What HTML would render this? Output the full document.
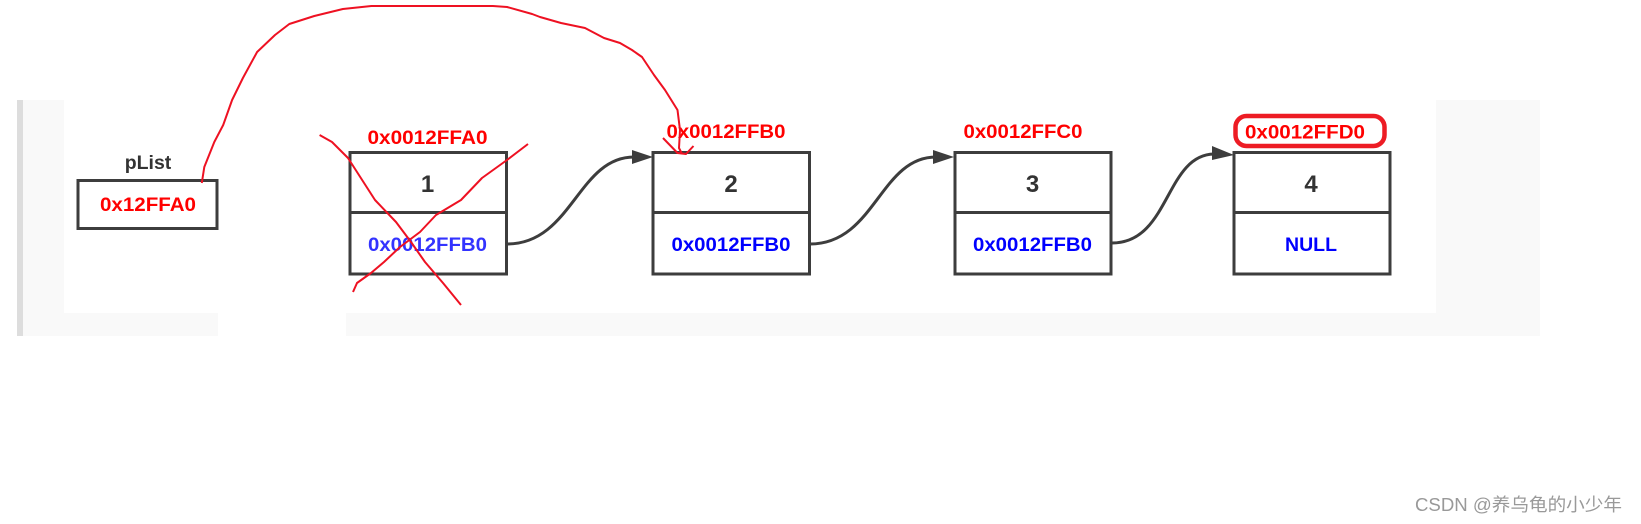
<!DOCTYPE html>
<html><head><meta charset="utf-8">
<style>html,body{margin:0;padding:0;background:#fff}svg{display:block}
text{font-family:"Liberation Sans","Noto Sans CJK SC",sans-serif;text-anchor:middle;font-weight:bold;font-size:19.5px}</style></head>
<body>
<svg width="1641" height="524" viewBox="0 0 1641 524" xmlns="http://www.w3.org/2000/svg">
<rect x="17" y="100" width="1523" height="236" fill="#f9f9f9"/>
<rect x="17" y="100" width="6" height="236" fill="#dddddd"/>
<rect x="64" y="100" width="1372" height="213" fill="#fff"/>
<rect x="218" y="313" width="128" height="23" fill="#fff"/>
<g fill="none" stroke="#3d3d3d" stroke-width="3">
<rect x="78" y="180.500" width="139" height="48"/>
<rect x="350" y="152.500" width="156.500" height="121.500"/><path d="M350 212.500H506.500"/>
<rect x="653" y="152.500" width="156.500" height="121.500"/><path d="M653 212.500H809.500"/>
<rect x="955" y="152.500" width="156" height="121.500"/><path d="M955 212.500H1111"/>
<rect x="1234" y="152.500" width="156" height="121.500"/><path d="M1234 212.500H1390"/>
<path d="M507 244C572 244 578 157 634 157"/>
<path d="M810 244C875 244 880 157 936 157"/>
<path d="M1112 243C1170 243 1165 155 1214 154"/>
</g>
<g fill="#3d3d3d">
<path d="M653 157L632 150V164Z"/><path d="M954 157L933 150V164Z"/><path d="M1234 155L1212 146V160Z"/>
</g>
<g>
<text x="148" y="169" fill="#333">pList</text>
<text x="148" y="211" fill="#f00" textLength="96" lengthAdjust="spacingAndGlyphs">0x12FFA0</text>
<text x="427.500" y="144" fill="#f00" textLength="120" lengthAdjust="spacingAndGlyphs">0x0012FFA0</text>
<text x="726" y="138" fill="#f00" textLength="119" lengthAdjust="spacingAndGlyphs">0x0012FFB0</text>
<text x="1023" y="138" fill="#f00" textLength="119" lengthAdjust="spacingAndGlyphs">0x0012FFC0</text>
<text x="1305" y="138.500" fill="#f00" textLength="120" lengthAdjust="spacingAndGlyphs">0x0012FFD0</text>
<text x="427.500" y="192" fill="#333" style="font-size:24px">1</text>
<text x="731" y="192" fill="#333" style="font-size:24px">2</text>
<text x="1032.500" y="192" fill="#333" style="font-size:24px">3</text>
<text x="1311" y="192" fill="#333" style="font-size:24px">4</text>
<text x="427.500" y="251" fill="#3333ff" textLength="119" lengthAdjust="spacingAndGlyphs">0x0012FFB0</text>
<text x="731" y="251" fill="#0000ff" textLength="119" lengthAdjust="spacingAndGlyphs">0x0012FFB0</text>
<text x="1032.500" y="251" fill="#0000ff" textLength="119" lengthAdjust="spacingAndGlyphs">0x0012FFB0</text>
<text x="1311" y="251" fill="#0000ff" textLength="52" lengthAdjust="spacingAndGlyphs">NULL</text>
</g>
<g fill="none" stroke="#ee1122" stroke-width="2" stroke-linejoin="round">
<path d="M201.800 183L204.300 167L214.300 142L223.200 125L232.100 100L242.900 78L257.100 52L275 35L289.300 24L314.300 16L342.900 9L371.400 6L492.900 6L507.100 7L532.100 14L540 17L561 23L585 28L604 38L620 43L632 50L642 57L654 75L665 90L677.500 110L680 130L679 148L682 154"/>
<path d="M319.600 135L332 142L348 158L375 200L396 222L411 242L425 262L443 283L461 305"/>
<path d="M528 144L507 160L482 178L461 200L436 215L420 232L400 247L384 262L371 273L357 283L353 292"/>
<path d="M663 138L677.500 153L686 154L693.500 146"/>
</g>
<rect x="1235.500" y="116" width="149" height="30" rx="11" fill="none" stroke="#ed1c24" stroke-width="4.500"/>
<text x="1518.500" y="511" fill="#999" textLength="207" lengthAdjust="spacingAndGlyphs" style="font-weight:normal;font-size:18px">CSDN @养乌龟的小少年</text>
</svg>
</body></html>
